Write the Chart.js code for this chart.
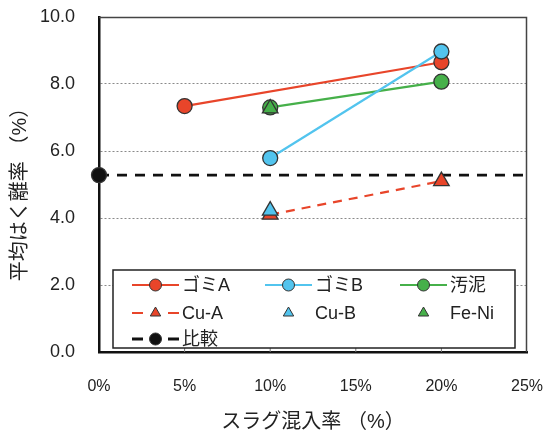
<!DOCTYPE html>
<html>
<head>
<meta charset="utf-8">
<script src="https://cdn.jsdelivr.net/npm/chart.js@4"></script>
<style>
  body { margin: 0; background: #fff; }
  #chart { display: block; }
</style>
</head>
<body>
<canvas id="chart" width="545" height="430"></canvas>
<script>
// values
const xTicks = [0, 5, 10, 15, 20, 25]
const yTicks = [0, 2, 4, 6, 8, 10]

const gomiAX = [5, 20]
const gomiAY = [7.34, 8.65]
const gomiBX = [10, 20]
const gomiBY = [5.79, 8.97]
const odeiX = [10, 20]
const odeiY = [7.3, 8.07]
const cuAX = [10, 20]
const cuAY = [4.1, 5.1]
const cuBX = [10]
const cuBY = [4.22]
const feNiX = [10]
const feNiY = [7.27]
const hikakuX = [0, 25]
const hikakuY = [5.28, 5.28]

const FONT = "'Liberation Sans', 'Noto Sans CJK JP', sans-serif"
const RED = '#e8452a'
const BLUE = '#52c4ee'
const GREEN = '#46b04a'

const pts = (xs, ys) => xs.map((x, i) => ({ x: x, y: ys[i] }))

const series = [
  { label: 'ゴミA', data: pts(gomiAX, gomiAY), color: RED, line: true, style: 'circle', order: 8 },
  { label: 'ゴミB', data: pts(gomiBX, gomiBY), color: BLUE, line: true, style: 'circle', order: 5 },
  { label: '汚泥', data: pts(odeiX, odeiY), color: GREEN, line: true, style: 'circle', order: 6 },
  { label: 'Cu-A', data: pts(cuAX, cuAY), color: RED, line: true, dash: [9, 7], style: 'triangle', order: 7 },
  { label: 'Cu-B', data: pts(cuBX, cuBY), color: BLUE, line: false, style: 'triangle', order: 1 },
  { label: 'Fe-Ni', data: pts(feNiX, feNiY), color: GREEN, line: false, style: 'triangle', order: 2 },
  { label: '比較', data: pts(hikakuX, hikakuY), color: '#111', line: true, dash: [10, 8], style: 'circle', order: 10, firstOnly: true }
]

const datasets = series.map(s => ({
  label: s.label,
  data: s.data,
  showLine: s.line,
  borderColor: s.color,
  borderWidth: s.firstOnly ? 2.8 : 2.2,
  borderDash: s.dash || [],
  pointStyle: s.style,
  pointRadius: s.firstOnly ? s.data.map((d, i) => i === 0 ? 7.5 : 0) : (s.style === 'triangle' ? 9 : 7.5),
  pointBackgroundColor: s.color,
  pointBorderColor: '#333',
  pointBorderWidth: 1.3,
  order: s.order,
  clip: false
}))

// frame, inward x ticks and the legend inside the plot
const legendBox = {
  id: 'legendBox',
  beforeDatasetsDraw (chart) {
    const { ctx, chartArea: a, scales } = chart
    ctx.save()
    ctx.strokeStyle = '#444'
    ctx.lineWidth = 1.5
    ctx.beginPath()
    ctx.moveTo(a.left, a.top + 0.5)
    ctx.lineTo(a.right - 0.5, a.top + 0.5)
    ctx.lineTo(a.right - 0.5, a.bottom)
    ctx.stroke()
    ctx.strokeStyle = '#777'
    ctx.lineWidth = 1
    xTicks.slice(1, -1).forEach(v => {
      const x = scales.x.getPixelForValue(v)
      ctx.beginPath()
      ctx.moveTo(x, a.bottom)
      ctx.lineTo(x, a.bottom - 5)
      ctx.stroke()
    })
    ctx.restore()
  },
  afterDraw (chart) {
    const ctx = chart.ctx
    const box = { x: 113, y: 270, w: 402, h: 78 }
    const cols = [132, 265, 400]
    const rows = [285, 313, 339]
    const w = 47
    ctx.save()
    ctx.fillStyle = '#fff'
    ctx.fillRect(box.x, box.y, box.w, box.h)
    ctx.strokeStyle = '#222'
    ctx.lineWidth = 1.5
    ctx.strokeRect(box.x, box.y, box.w, box.h)
    chart.data.datasets.forEach((ds, i) => {
      const x0 = cols[i % 3]
      const y = rows[Math.floor(i / 3)]
      if (ds.showLine) {
        ctx.strokeStyle = ds.borderColor
        ctx.lineWidth = ds.borderWidth
        ctx.beginPath()
        if (ds.borderDash.length) {
          ctx.moveTo(x0, y)
          ctx.lineTo(x0 + 11, y)
          ctx.moveTo(x0 + w - 11, y)
          ctx.lineTo(x0 + w, y)
        } else {
          ctx.moveTo(x0, y)
          ctx.lineTo(x0 + w, y)
        }
        ctx.stroke()
      }
      ctx.fillStyle = ds.pointBackgroundColor
      ctx.strokeStyle = ds.pointBorderColor
      ctx.lineWidth = 1
      Chart.helpers.drawPoint(ctx, { pointStyle: ds.pointStyle, radius: 6, rotation: 0, borderWidth: 1 }, x0 + w / 2, y)
      ctx.fillStyle = '#222'
      ctx.font = '18px ' + FONT
      ctx.textBaseline = 'middle'
      ctx.textAlign = 'left'
      ctx.fillText(ds.label, x0 + w + 3, y + 1)
    })
    ctx.restore()
  }
}

new Chart(document.getElementById('chart'), {
  type: 'scatter',
  data: { datasets: datasets },
  plugins: [legendBox],
  options: {
    responsive: false,
    animation: false,
    layout: { padding: { top: 17, right: 18, left: 0, bottom: 0 } },
    plugins: { legend: { display: false }, tooltip: { enabled: false } },
    scales: {
      x: {
        type: 'linear',
        min: xTicks[0],
        max: xTicks[xTicks.length - 1],
        afterBuildTicks: s => { s.ticks = xTicks.map(v => ({ value: v })) },
        afterFit: s => { s.height = 78; s.paddingLeft = 0; s.paddingRight = 0 },
        grid: { display: false },
        border: { color: '#111', width: 2.5 },
        ticks: { padding: 17, color: '#222', font: { family: FONT, size: 16 }, callback: v => v + '%' },
        title: { display: true, text: 'スラグ混入率 （%）', color: '#222', font: { family: FONT, size: 20, lineHeight: 0.8 }, padding: { top: 0, bottom: 0 } }
      },
      y: {
        min: yTicks[0],
        max: yTicks[yTicks.length - 1],
        afterBuildTicks: s => { s.ticks = yTicks.map(v => ({ value: v })) },
        afterFit: s => { s.width = 99; s.paddingTop = 0; s.paddingBottom = 0 },
        grid: {
          drawTicks: false,
          color: c => (c.tick && (c.tick.value === 0 || c.tick.value === 10)) ? 'rgba(0,0,0,0)' : '#8a8a8a',
          lineWidth: 1
        },
        border: { color: '#111', width: 2.5, dash: [2, 2] },
        ticks: { padding: 24, color: '#222', font: { family: FONT, size: 18 }, callback: v => v.toFixed(1) },
        title: { display: true, text: '平均はく離率 （%）　', color: '#222', font: { family: FONT, size: 20 }, padding: { top: 8, bottom: 0 } }
      }
    }
  }
})
</script>
</body>
</html>
